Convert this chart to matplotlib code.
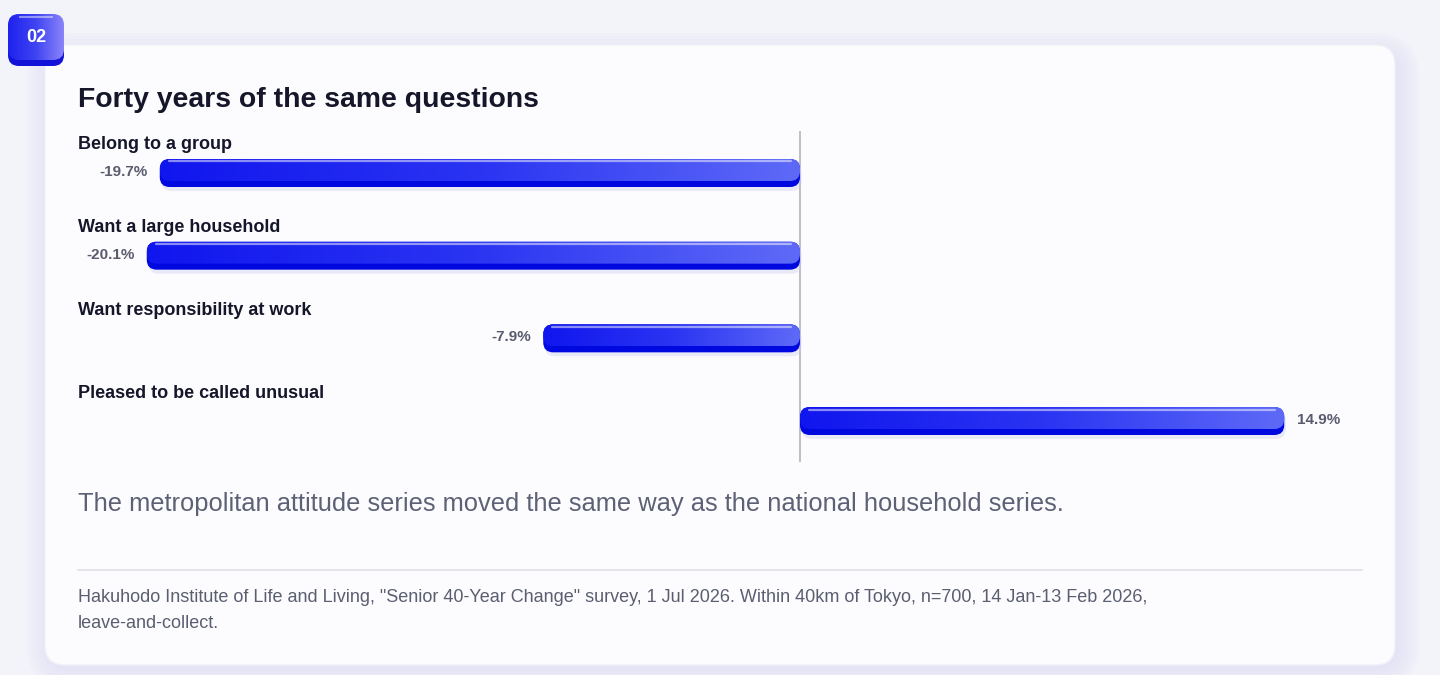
import numpy as np
import matplotlib
matplotlib.use("Agg")
import matplotlib.pyplot as plt
from matplotlib.patches import FancyBboxPatch
from matplotlib.colors import LinearSegmentedColormap

plt.rcParams['font.family'] = ['Liberation Sans', 'DejaVu Sans']

# data
categories = ["Belong to a group", "Want a large household",
              "Want responsibility at work", "Pleased to be called unusual"]
changes = [-19.7, -20.1, -7.9, 14.9]
value_labels = ["-19.7%", "-20.1%", "-7.9%", "14.9%"]

title = "Forty years of the same questions"
subtitle = "The metropolitan attitude series moved the same way as the national household series."
source_lines = ['Hakuhodo Institute of Life and Living, "Senior 40-Year Change" survey, 1 Jul 2026. '
                'Within 40km of Tokyo, n=700, 14 Jan-13 Feb 2026,',
                'leave-and-collect.']
badge = "02"

W, H = 1440, 675
fig = plt.figure(figsize=(W / 100, H / 100), dpi=100)
fig.patch.set_facecolor('#f3f3fa')

# decoration layer in pixel coords
bg = fig.add_axes([0, 0, 1, 1])
bg.set_xlim(0, W)
bg.set_ylim(H, 0)
bg.axis('off')

# card glow + card
for k in range(24, 0, -3):
    bg.add_patch(FancyBboxPatch((45 - k + 6, 45 - k + 12), 1350 + 2 * k - 6, 620 + 2 * k - 12,
                                boxstyle="round,pad=0,rounding_size=%d" % (20 + k),
                                fc='#dcdcf6', ec='none', alpha=0.09))
bg.add_patch(FancyBboxPatch((45, 45), 1350, 620, boxstyle="round,pad=0,rounding_size=20",
                            fc='#fcfcfe', ec='#f0f0f7', lw=1))

# badge
bg.add_patch(FancyBboxPatch((8, 18), 56, 48, boxstyle="round,pad=0,rounding_size=11",
                            fc='#1212d8', ec='none'))
badge_box = FancyBboxPatch((8, 14), 56, 46, boxstyle="round,pad=0,rounding_size=11",
                           fc='none', ec='none')
bg.add_patch(badge_box)
badge_cmap = LinearSegmentedColormap.from_list('badge', ['#1e22ee', '#3f44f2', '#8a84fa'])
im = bg.imshow(np.linspace(0, 1, 64).reshape(1, -1), cmap=badge_cmap, extent=(8, 64, 60, 14),
               aspect='auto', zorder=2)
im.set_clip_path(badge_box)
bg.plot([20, 52], [16.5, 16.5], color='white', alpha=0.45, lw=1.5, zorder=3)
bg.text(36, 38, badge, color='white', fontsize=13, fontweight='bold',
        ha='center', va='center', zorder=4)
bg.set_xlim(0, W)
bg.set_ylim(H, 0)

# texts
bg.text(78, 100, title, fontsize=20.4, fontweight='bold', color='#15162a', va='center', ha='left')
bg.text(78, 504, subtitle, fontsize=18.35, color='#5d6175', va='center', ha='left')
bg.plot([78, 1362], [570, 570], color='#e3e3e9', lw=1.3)
bg.text(78, 598, source_lines[0], fontsize=13.0, color='#5a5e70', va='center', ha='left')
bg.text(78, 624, source_lines[1], fontsize=13.0, color='#5a5e70', va='center', ha='left')

# bar chart axes
x_left, x_right, y_top, y_bot = 78, 1362, 131, 462
ax = fig.add_axes([x_left / W, 1 - y_bot / H, (x_right - x_left) / W, (y_bot - y_top) / H])
ax.patch.set_alpha(0)
ax.axis('off')
px_x = 32.5          # pixels per percentage point
px_y = 82.67         # pixels per category step
zero_px = 800
xmin = (x_left - zero_px) / px_x
xmax = (x_right - zero_px) / px_x
ymin = -(173 - y_top) / px_y
ymax = 3 + (y_bot - 421) / px_y

ax.axvline(0, color='#b9b9c2', lw=1.3, zorder=1)

bar_h = 28 / px_y
top_h = 22 / px_y
rnd = 10 / px_x
asp = px_x / px_y
bar_cmap = LinearSegmentedColormap.from_list('bar', ['#1016ee', '#2a34f2', '#5e6af7'])

for i, (cat, v, lab) in enumerate(zip(categories, changes, value_labels)):
    x0, x1 = min(0, v), max(0, v)
    top = i - bar_h / 2
    # soft shadow
    ax.add_patch(FancyBboxPatch((x0 + 0.05, top + 4 / px_y), x1 - x0, bar_h,
                                boxstyle="round,pad=0,rounding_size=%f" % rnd, mutation_aspect=asp,
                                fc='#c8c8ee', ec='none', alpha=0.35, zorder=2))
    # dark base
    ax.add_patch(FancyBboxPatch((x0, top), x1 - x0, bar_h,
                                boxstyle="round,pad=0,rounding_size=%f" % rnd, mutation_aspect=asp,
                                fc='#0008e0', ec='none', zorder=3))
    # gradient face
    face = FancyBboxPatch((x0, top), x1 - x0, top_h,
                          boxstyle="round,pad=0,rounding_size=%f" % rnd, mutation_aspect=asp,
                          fc='none', ec='none', zorder=4)
    ax.add_patch(face)
    g = ax.imshow(np.linspace(0, 1, 256).reshape(1, -1), cmap=bar_cmap,
                  extent=(x0, x1, top + top_h, top), aspect='auto', zorder=4)
    g.set_clip_path(face)
    # highlight
    ax.plot([x0 + rnd * 0.9, x1 - rnd * 0.9], [top + 2.5 / px_y] * 2,
            color='white', alpha=0.5, lw=1.6, zorder=5, solid_capstyle='round')
    # labels
    ax.text(xmin, i - 28 / px_y, cat, fontsize=13, fontweight='bold', color='#15162a',
            ha='left', va='center')
    if v < 0:
        ax.text(v - 12 / px_x, i - 1 / px_y, lab, fontsize=11, fontweight='bold',
                color='#5a5c6e', ha='right', va='center')
    else:
        ax.text(v + 13 / px_x, i - 1 / px_y, lab, fontsize=11, fontweight='bold',
                color='#5a5c6e', ha='left', va='center')

ax.set_xlim(xmin, xmax)
ax.set_ylim(ymax, ymin)

fig.savefig('out.png', dpi=100, facecolor=fig.get_facecolor())
